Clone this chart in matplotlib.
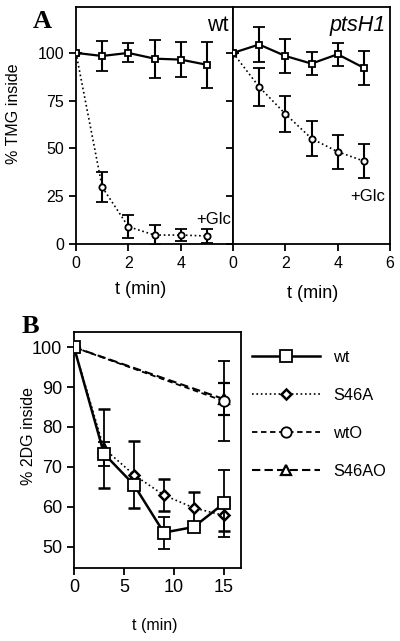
import matplotlib.pyplot as plt
import numpy as np

plt.rcParams['font.family'] = ['Liberation Sans', 'DejaVu Sans']
plt.rcParams['font.size'] = 11.5

# panel A: TMG efflux, wt and ptsH1 strains
t_a = [0, 1, 2, 3, 4, 5]
wt_ctrl = [100, 98.4, 100, 97, 96.5, 93.8]
wt_ctrl_err = [0, 8, 5, 10, 9, 12]
wt_glc = [100, 29.8, 9.1, 4.7, 4.7, 4.2]
wt_glc_err = [0, 8, 6, 5, 3, 3.5]
pts_ctrl = [100, 104.4, 98.4, 94.4, 99.3, 92.2]
pts_ctrl_err = [0, 9, 9, 6, 6, 9]
pts_glc = [100, 82.2, 68.1, 55.2, 48.3, 43.4]
pts_glc_err = [0, 10, 9.4, 9, 9, 9]

# panel B: 2DG efflux
t_b = [0, 3, 6, 9, 12, 15]
wt_b = [100, 73.3, 65.5, 53.5, 54.9, 60.8]
wt_b_err = [0, 3, 0, 4, 1, 8.5]
s46a = [100, 74.6, 68, 62.9, 59.7, 57.8]
s46a_err = [0, 10, 8.4, 4, 4, 4]
t_o = [0, 15]
wto = [100, 86.5]
wto_err = [0, 10]
s46ao = [100, 87]
s46ao_err = [0, 4]

fig = plt.figure(figsize=(4, 6.41), dpi=100)
ax1 = fig.add_axes([0.19, 0.6193, 0.3925, 0.3697])
ax2 = fig.add_axes([0.5825, 0.6193, 0.3925, 0.3697])
ax3 = fig.add_axes([0.185, 0.1144, 0.4167, 0.3682])

eb = dict(ecolor='black', elinewidth=1.5, capsize=4, capthick=1.5)
for ax, ctrl, cerr, glc, gerr in [(ax1, wt_ctrl, wt_ctrl_err, wt_glc, wt_glc_err),
                                  (ax2, pts_ctrl, pts_ctrl_err, pts_glc, pts_glc_err)]:
    ax.errorbar(t_a, glc, yerr=gerr, color='black', ls=':', lw=1.2, marker='o', ms=4.5,
                mfc='white', mec='black', mew=1.3, zorder=3, **eb)
    ax.errorbar(t_a, ctrl, yerr=cerr, color='black', ls='-', lw=1.6, marker='s', ms=4.5,
                mfc='white', mec='black', mew=1.3, zorder=4, **eb)
    ax.set_xlim(0, 6)
    ax.set_ylim(0, 124)
    ax.set_yticks([0, 25, 50, 75, 100])
    ax.tick_params(direction='out', length=5, width=1.3, labelsize=11.5)
    for s in ax.spines.values():
        s.set_linewidth(1.3)

ax1.set_xticks([0, 2, 4])
ax2.set_xticks([0, 2, 4, 6])
ax2.set_yticklabels([])
ax1.set_ylabel('% TMG inside', fontsize=11.5)
ax1.yaxis.set_label_coords(-0.35, 0.55)
ax1.set_xlabel('t (min)', fontsize=13)
ax1.xaxis.set_label_coords(0.414, -0.155)
ax2.set_xlabel('t (min)', fontsize=13)
ax2.xaxis.set_label_coords(0.51, -0.175)
ax1.text(0.97, 0.965, 'wt', transform=ax1.transAxes, ha='right', va='top', fontsize=15.5)
ax2.text(0.97, 0.965, 'ptsH1', transform=ax2.transAxes, ha='right', va='top',
         fontsize=15.5, style='italic')
ax1.text(0.985, 0.105, '+Glc', transform=ax1.transAxes, ha='right', va='center', fontsize=12)
ax2.text(0.968, 0.2, '+Glc', transform=ax2.transAxes, ha='right', va='center', fontsize=12)
fig.text(0.083, 0.957, 'A', family='Liberation Serif', fontweight='bold', fontsize=19,
         ha='left', va='baseline')
fig.text(0.055, 0.481, 'B', family='Liberation Serif', fontweight='bold', fontsize=19,
         ha='left', va='baseline')

# panel B
eb2 = dict(ecolor='black', elinewidth=1.3, capsize=4.5, capthick=1.3)
ax3.errorbar(t_o, s46ao, yerr=s46ao_err, color='black', ls=(0, (4, 2)), lw=1.5,
             marker='^', ms=6.5, mfc='white', mec='black', mew=1.6, zorder=2,
             label='S46AO', **eb2)
ax3.errorbar(t_o, wto, yerr=wto_err, color='black', ls=(0, (3, 2)), lw=1.3,
             marker='o', ms=7.5, mfc='white', mec='black', mew=1.3, zorder=3,
             label='wtO', **eb2)
ax3.errorbar(t_b, s46a, yerr=s46a_err, color='black', ls=':', lw=1.2,
             marker='D', ms=5.5, markevery=[0, 2, 3, 4, 5], mfc='white', mec='black',
             mew=1.8, zorder=4, label='S46A', **eb2)
ax3.plot(t_b[1], s46a[1], ls='none', marker='^', ms=6.5, mfc='white', mec='black',
         mew=1.6, zorder=4)
ax3.errorbar(t_b, wt_b, yerr=wt_b_err, color='black', ls='-', lw=1.8,
             marker='s', ms=8, mfc='white', mec='black', mew=1.3, zorder=5,
             label='wt', **eb2)
ax3.set_xlim(0, 16.7)
ax3.set_ylim(44.7, 103.9)
ax3.set_xticks([0, 5, 10, 15])
ax3.set_yticks([50, 60, 70, 80, 90, 100])
ax3.tick_params(direction='out', length=5, width=1.3, labelsize=13)
for s in ax3.spines.values():
    s.set_linewidth(1.3)
ax3.set_ylabel('% 2DG inside', fontsize=11.5)
ax3.yaxis.set_label_coords(-0.23, 0.56)
ax3.set_xlabel('t (min)', fontsize=11.5)
ax3.xaxis.set_label_coords(0.486, -0.213)

h, l = ax3.get_legend_handles_labels()
order = [3, 2, 1, 0]
leg = ax3.legend([h[i][0] for i in order], [l[i] for i in order], loc='upper left',
                 bbox_to_anchor=(0.98, 0.985), frameon=False, handlelength=4.15,
                 handletextpad=0.8, labelspacing=1.4, fontsize=11.8)

fig.savefig('out.png', dpi=100)
